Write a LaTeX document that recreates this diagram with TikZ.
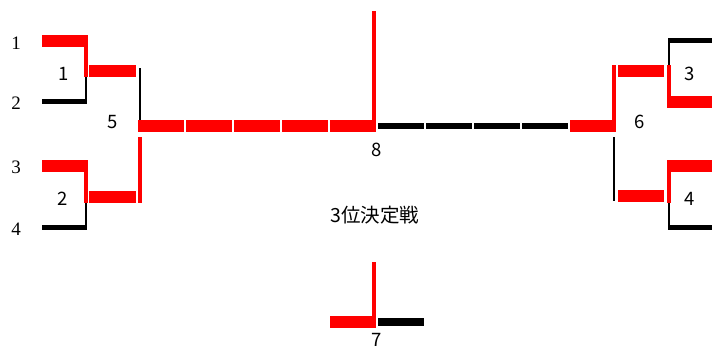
\documentclass[tikz,border=0pt]{standalone}
\usepackage{fontspec}
\setmainfont{Liberation Serif}
\newfontfamily\gothic{Noto Sans CJK JP}
\begin{document}
\begin{tikzpicture}[x=1pt,y=-1pt,
  win/.style={fill=red},
  lose/.style={fill=black},
  seedlbl/.style={inner sep=0pt,font=\fontsize{19}{19}\selectfont},
  matchlbl/.style={inner sep=0pt,font=\gothic\fontsize{18.5}{18.5}\selectfont}]
\useasboundingbox[fill=white] (0,0) rectangle (727,354);
% ---- left top (match 1)
\fill[win] (42,35) rectangle (88,47);
\fill[win] (84,35) rectangle (88,77);
\fill[lose] (85,77) rectangle (87,104);
\fill[lose] (42,99) rectangle (87,104);
\fill[win] (89,65) rectangle (136,77);
% ---- left bottom (match 2)
\fill[win] (42,160) rectangle (88,172);
\fill[win] (84,160) rectangle (88,203);
\fill[lose] (85,203) rectangle (87,230);
\fill[lose] (42,225) rectangle (87,230);
\fill[win] (89,191) rectangle (136,203);
% ---- match 5
\fill[lose] (138.5,68) rectangle (140.5,120);
\fill[win] (138,137) rectangle (142,203);
% ---- final (8) red side
\foreach \a in {138,186,234,282,330}
  \fill[win] (\a,120) rectangle (\a+46,132);
\fill[win] (372,11) rectangle (376,132);
% ---- final black side
\foreach \a in {378,426,474,522}
  \fill[lose] (\a,123) rectangle (\a+46,129);
\fill[win] (570,120) rectangle (616,132);
% ---- match 6
\fill[win] (612,65) rectangle (616,132);
\fill[lose] (613,137) rectangle (615,201);
% ---- right top (match 3)
\fill[win] (618,65) rectangle (664,77);
\fill[lose] (667.5,38) rectangle (669.5,65);
\fill[lose] (668,38) rectangle (712,43);
\fill[win] (667,65) rectangle (671,108);
\fill[win] (667,96) rectangle (712,108);
% ---- right bottom (match 4)
\fill[win] (618,190) rectangle (664,202);
\fill[win] (667,160) rectangle (671,203);
\fill[win] (667,160) rectangle (712,172);
\fill[lose] (667.5,203) rectangle (669.5,230);
\fill[lose] (668,225) rectangle (712,230);
% ---- third place (7)
\fill[win] (372,262) rectangle (376,328);
\fill[win] (330,316) rectangle (376,328);
\fill[lose] (378,318) rectangle (424,326);
% ---- labels
\node[seedlbl] (s1) at (16,43) {1};
\node[seedlbl] (s2) at (16,103) {2};
\node[seedlbl] (s3) at (16,167) {3};
\node[seedlbl] (s4) at (16,229) {4};
\node[matchlbl] (m1) at (64,74) {1};
\node[matchlbl] (m2) at (63,199) {2};
\node[matchlbl] (m5) at (113,122) {5};
\node[matchlbl] (m3) at (690,74) {3};
\node[matchlbl] (m6) at (640,122) {6};
\node[matchlbl] (m4) at (690,199) {4};
\node[matchlbl] (m8) at (377,150) {8};
\node[matchlbl,font=\gothic\fontsize{19.5}{19.5}\selectfont] (tp) at (375,215) {3位決定戦};
\node[matchlbl] (m7) at (377,340) {7};
\end{tikzpicture}
\end{document}
